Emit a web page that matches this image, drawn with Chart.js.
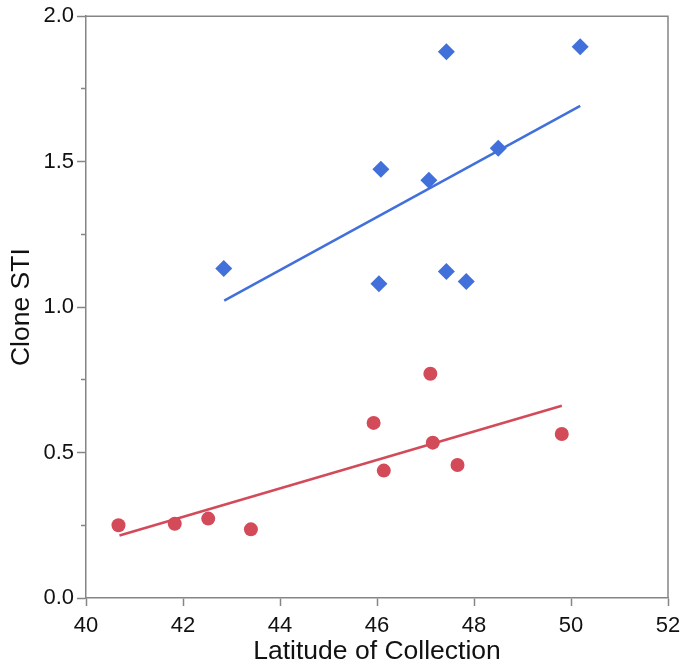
<!DOCTYPE html>
<html>
<head>
<meta charset="utf-8">
<script src="https://cdn.jsdelivr.net/npm/chart.js@4.4.1/dist/chart.umd.min.js"></script>
<style>
  body { margin: 0; background: #fff; }
  #wrap { width: 682px; height: 667px; }
</style>
</head>
<body>
<div id="wrap"><canvas id="myChart"></canvas></div>
<script>
// values
const blueLat = [42.84, 46.04, 46.08, 47.07, 47.43, 47.43, 47.84, 48.50, 50.19];
const blueSTI = [1.133, 1.080, 1.474, 1.436, 1.878, 1.122, 1.088, 1.546, 1.895];
const redLat = [40.67, 41.83, 42.52, 43.40, 45.93, 46.14, 47.10, 47.15, 47.66, 49.81];
const redSTI = [0.250, 0.255, 0.273, 0.236, 0.602, 0.438, 0.771, 0.534, 0.457, 0.564];

// fitted lines, end points
const blueFitLat = [42.85, 50.19];
const blueFitSTI = [1.022, 1.692];
const redFitLat = [40.69, 49.81];
const redFitSTI = [0.215, 0.661];

const xTicks = [40, 42, 44, 46, 48, 50, 52];
const yTicks = [0.0, 0.5, 1.0, 1.5, 2.0];

const BLUE = 'rgb(65,112,219)';
const RED = 'rgb(211,74,89)';
const AXIS = '#858585';

const toPts = (xs, ys) => xs.map((x, i) => ({ x: x, y: ys[i] }));

// top and right edges of the frame
const frame = {
  id: 'frame',
  afterDraw(chart) {
    const { ctx, chartArea: a } = chart;
    ctx.save();
    ctx.strokeStyle = AXIS;
    ctx.lineWidth = 1.5;
    ctx.beginPath();
    ctx.moveTo(a.left, a.top);
    ctx.lineTo(a.right, a.top);
    ctx.lineTo(a.right, a.bottom);
    ctx.stroke();
    ctx.restore();
  }
};

const ctx = document.getElementById('myChart');
new Chart(ctx, {
  type: 'scatter',
  data: {
    datasets: [
      {
        label: 'blue fit',
        data: toPts(blueFitLat, blueFitSTI),
        showLine: true,
        borderColor: BLUE,
        borderWidth: 2.5,
        pointRadius: 0,
        order: 2
      },
      {
        label: 'red fit',
        data: toPts(redFitLat, redFitSTI),
        showLine: true,
        borderColor: RED,
        borderWidth: 2.5,
        pointRadius: 0,
        order: 2
      },
      {
        label: 'blue',
        data: toPts(blueLat, blueSTI),
        pointStyle: 'rectRot',
        pointRadius: 8.5,
        backgroundColor: BLUE,
        borderWidth: 0,
        order: 1
      },
      {
        label: 'red',
        data: toPts(redLat, redSTI),
        pointStyle: 'circle',
        pointRadius: 7,
        backgroundColor: RED,
        borderWidth: 0,
        order: 1
      }
    ]
  },
  options: {
    responsive: true,
    maintainAspectRatio: false,
    animation: false,
    layout: { padding: { left: 0, top: 16, right: 14, bottom: 0 } },
    plugins: { legend: { display: false }, tooltip: { enabled: false } },
    scales: {
      x: {
        type: 'linear',
        min: 40,
        max: 52,
        afterFit: (s) => { s.height = 69; s.paddingLeft = 0; s.paddingRight = 0; },
        afterBuildTicks: (s) => { s.ticks = xTicks.map(v => ({ value: v })); },
        border: { display: true, color: AXIS, width: 1.5 },
        grid: { drawOnChartArea: false, drawTicks: true, tickLength: 8, color: AXIS, tickWidth: 1.5 },
        ticks: {
          color: '#111',
          padding: 7,
          font: { family: 'Liberation Sans', size: 22 },
          callback: (v) => String(v)
        },
        title: {
          display: true,
          text: 'Latitude of Collection',
          color: '#111',
          font: { family: 'Liberation Sans', size: 26.5 },
          padding: { top: 0, bottom: -1 }
        }
      },
      y: {
        type: 'linear',
        min: 0,
        max: 2,
        afterFit: (s) => { s.width = 86; },
        afterBuildTicks: (s) => {
          const t = [];
          for (let v = 0; v <= 2.0001; v += 0.25) t.push({ value: Math.round(v * 100) / 100 });
          s.ticks = t;
        },
        border: { display: true, color: AXIS, width: 1.5 },
        grid: {
          drawOnChartArea: false,
          drawTicks: true,
          tickLength: 9,
          color: AXIS,
          tickWidth: 1.5,
          tickBorderDash: (c) => (yTicks.includes(c.tick.value) ? [] : [0, 4, 5, 20])
        },
        ticks: {
          color: '#111',
          padding: 3,
          font: { family: 'Liberation Sans', size: 22 },
          callback: (v) => (yTicks.includes(v) ? v.toFixed(1) : '')
        },
        title: {
          display: true,
          text: 'Clone STI',
          color: '#111',
          font: { family: 'Liberation Sans', size: 26.5 },
          padding: { top: 6, bottom: 0 }
        }
      }
    }
  },
  plugins: [frame]
});
</script>
</body>
</html>
